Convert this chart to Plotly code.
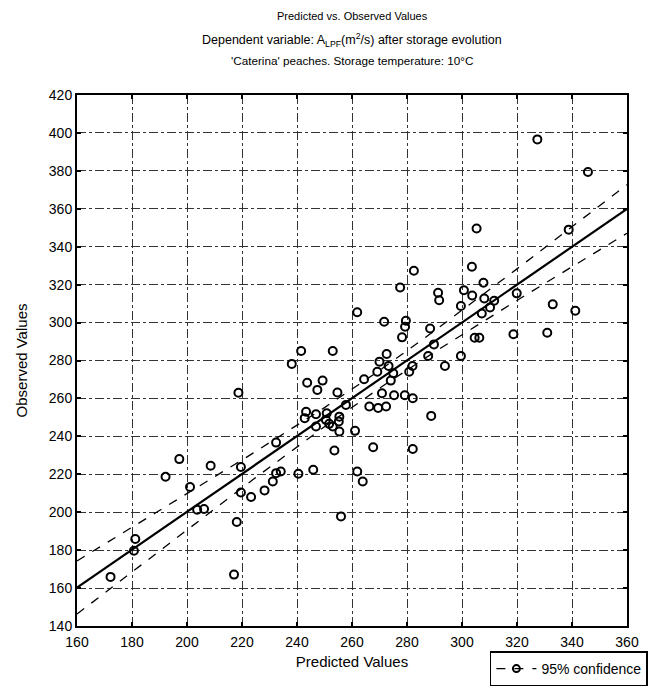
import numpy as np
import plotly.graph_objects as go

predicted = [218.7, 197.2, 208.6, 219.6, 192.2, 201.1, 232.4, 234.1, 231.2, 228.2,
             219.6, 223.3, 203.7, 206.2, 218.1, 181.2, 180.7, 172.2, 217.1, 277.5,
             291.3, 291.7, 300.7, 299.6, 261.9, 271.7, 279.6, 279.3, 288.4, 278.2,
             289.8, 241.5, 253.0, 238.1, 272.6, 270.0, 273.3, 287.7, 299.6, 282.0,
             293.8, 269.2, 275.0, 280.8, 264.4, 274.1, 243.7, 249.3, 247.4, 254.7,
             270.9, 275.3, 279.2, 282.1, 257.8, 266.3, 269.5, 272.4, 243.3, 242.8,
             246.9, 250.8, 250.5, 255.4, 251.7, 255.2, 253.0, 246.9, 255.4, 261.1,
             288.8, 253.6, 267.7, 282.1, 232.4, 240.5, 245.9, 261.9, 263.9, 303.6,
             307.8, 303.7, 308.1, 311.7, 310.2, 307.2, 319.9, 333.0, 341.2, 304.6,
             306.3, 318.7, 331.0, 327.4, 345.8, 305.3, 338.8, 256.0, 282.5]
observed = [263.0, 228.0, 224.5, 223.8, 218.7, 213.3, 236.7, 221.5, 216.2, 211.5,
            210.4, 208.0, 201.3, 201.7, 194.8, 185.9, 179.7, 165.9, 167.1, 318.5,
            315.7, 311.8, 317.0, 308.7, 305.4, 300.4, 301.0, 297.8, 296.9, 292.2,
            288.5, 285.0, 285.0, 278.2, 283.4, 279.4, 277.1, 282.4, 282.4, 277.1,
            277.1, 274.1, 273.3, 274.1, 270.1, 269.4, 268.3, 269.4, 264.5, 263.1,
            262.7, 261.7, 261.7, 260.1, 256.6, 255.7, 255.0, 255.7, 253.0, 249.6,
            251.7, 252.2, 248.7, 250.4, 246.6, 247.8, 245.2, 245.2, 242.5, 242.9,
            250.8, 232.5, 234.3, 233.3, 220.6, 220.3, 222.4, 221.5, 216.2, 329.4,
            321.0, 314.3, 312.7, 311.5, 308.0, 304.8, 315.4, 309.6, 306.2, 292.0,
            292.0, 293.8, 294.6, 396.6, 379.4, 349.6, 349.0, 197.8, 327.3]

x_ticks = [160, 180, 200, 220, 240, 260, 280, 300, 320, 340, 360]
y_ticks = [140, 160, 180, 200, 220, 240, 260, 280, 300, 320, 340, 360, 380, 400, 420]

title_lines = ["Predicted vs. Observed Values",
               "Dependent variable: A<sub>LPF</sub>(m<sup>2</sup>/s) after storage evolution",
               "'Caterina' peaches. Storage temperature: 10°C"]

# regression of observed on predicted with 95% confidence band
xa = np.array(predicted)
ya = np.array(observed)
n = len(xa)
slope, intercept = np.polyfit(xa, ya, 1)
resid = ya - (intercept + slope * xa)
s = np.sqrt(np.sum(resid ** 2) / (n - 2))
sxx = np.sum((xa - xa.mean()) ** 2)
xl = np.linspace(x_ticks[0], x_ticks[-1], 101)
yl = intercept + slope * xl
hw = 1.984 * s * np.sqrt(1.0 / n + (xl - xa.mean()) ** 2 / sxx)

FONT = "Liberation Sans, Arial, sans-serif"

fig = go.Figure()
fig.add_trace(go.Scatter(x=xl, y=yl + hw, mode="lines", line=dict(color="black", width=1.3, dash="dash"),
                         showlegend=False, hoverinfo="skip"))
fig.add_trace(go.Scatter(x=xl, y=yl - hw, mode="lines", line=dict(color="black", width=1.3, dash="dash"),
                         showlegend=False, hoverinfo="skip"))
fig.add_trace(go.Scatter(x=xl, y=yl, mode="lines", line=dict(color="black", width=2.2),
                         showlegend=False, hoverinfo="skip"))
fig.add_trace(go.Scatter(x=predicted, y=observed, mode="markers",
                         marker=dict(symbol="circle-open", size=8, color="black", line=dict(width=2)),
                         showlegend=False))
fig.add_trace(go.Scatter(x=[None], y=[None], mode="lines+markers", name="95% confidence",
                         line=dict(color="black", width=1.3, dash="dash"),
                         marker=dict(symbol="circle-open", size=7, color="black", line=dict(width=2))))

axis_common = dict(showline=True, linecolor="black", linewidth=2, mirror="ticks",
                   ticks="inside", ticklen=4, tickwidth=1.5, tickcolor="black",
                   showgrid=True, gridcolor="#333", gridwidth=1, griddash="dashdot",
                   zeroline=False, tickfont=dict(family=FONT, size=14, color="black"))

fig.update_xaxes(range=[x_ticks[0], x_ticks[-1]], tickvals=x_ticks, **axis_common,
                 ticklabelstandoff=2,
                 title=dict(text="Predicted Values", font=dict(family=FONT, size=15, color="black"), standoff=8))
fig.update_yaxes(range=[y_ticks[0], y_ticks[-1]], tickvals=y_ticks, **axis_common,
                 title=dict(text="Observed Values", font=dict(family=FONT, size=15, color="black"), standoff=18))

title_sizes = [11, 12.5, 11.7]
title_shifts = [87, 66, 43]
annotations = []
for i, t in enumerate(title_lines):
    annotations.append(dict(text=t, x=0.5, xref="paper", y=1.0, yref="paper", yanchor="top",
                            yshift=title_shifts[i], showarrow=False,
                            font=dict(family=FONT, size=title_sizes[i], color="black")))

fig.update_layout(
    width=652, height=692,
    margin=dict(l=77, r=25, t=95, b=66, autoexpand=False),
    paper_bgcolor="white", plot_bgcolor="white",
    annotations=annotations,
    legend=dict(x=1.038, y=-0.048, xanchor="right", yanchor="top",
                bordercolor="black", borderwidth=1.5, bgcolor="white",
                font=dict(family=FONT, size=14, color="black"),
                itemwidth=40, tracegroupgap=0),
)

fig.write_html("out.html")
